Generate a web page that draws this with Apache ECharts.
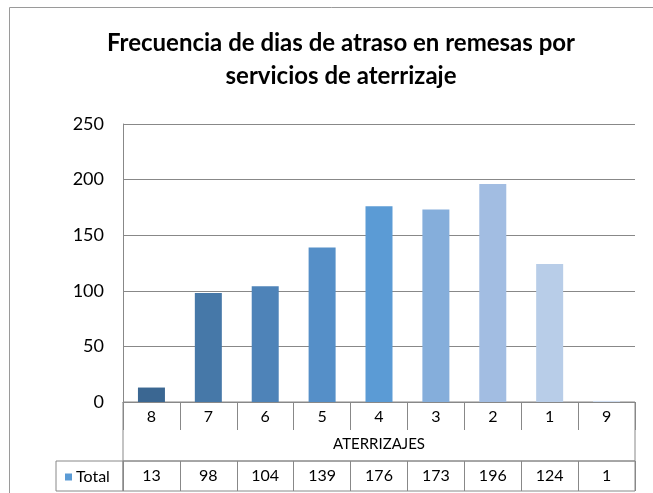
<!DOCTYPE html>
<html>
<head>
<meta charset="utf-8">
<script src="https://cdn.jsdelivr.net/npm/echarts@6/dist/echarts.min.js"></script>
<style>
  html, body { margin: 0; padding: 0; background: #fff; }
  #chart { width: 653px; height: 493px; }
</style>
</head>
<body>
<div id="chart"></div>
<script>
// datos
var categorias = ['8', '7', '6', '5', '4', '3', '2', '1', '9'];
var totales = [13, 98, 104, 139, 176, 173, 196, 124, 1];
var colores = ['#3B6792', '#4678A8', '#4E83B8', '#558FC8', '#5B9BD5', '#85AEDB', '#A2BDE2', '#B8CDE8', '#CFDDF0'];
var ticksY = [0, 50, 100, 150, 200, 250];

var myChart = echarts.init(document.getElementById('chart'));
var fuente = 'Lato';

var barras = [];
for (var i = 0; i < totales.length; i++) {
    barras.push({ value: totales[i], itemStyle: { color: colores[i] } });
}

var option = {
    animation: false,
    textStyle: { fontFamily: fuente },
    graphic: [{
        type: 'rect',
        shape: { x: 9.5, y: 7.5, width: 700, height: 600 },
        style: { fill: 'none', stroke: '#9a9a9a', lineWidth: 1 },
        z: -10
    }],
    title: {
        text: 'Frecuencia de dias de atraso en remesas por\nservicios de aterrizaje',
        left: 336,
        textAlign: 'center',
        top: 22,
        textStyle: { fontFamily: fuente, fontSize: 24, fontWeight: 'bold', color: '#000', lineHeight: 33 }
    },
    legend: {
        data: ['Total'],
        left: 60,
        top: 464,
        icon: 'rect',
        itemWidth: 7,
        itemHeight: 7,
        textStyle: { fontFamily: fuente, fontSize: 16, color: '#000', padding: [0, 0, 0, -1] }
    },
    grid: [
        { left: 123, right: 18, top: 124, bottom: 91 },
        { left: 123, right: 18, top: 402, bottom: 32, show: true, borderColor: '#888', borderWidth: 1 },
        { left: 123, right: 18, top: 461, bottom: 2, show: true, borderColor: '#888', borderWidth: 1 },
        { left: 56, right: 530, top: 461, bottom: 2, show: true, borderColor: '#888', borderWidth: 1 }
    ],
    xAxis: [
        {
            gridIndex: 0, type: 'category', data: categorias,
            axisLine: { lineStyle: { color: '#888', width: 1 } },
            axisTick: { show: true, length: 28, lineStyle: { color: '#888' } },
            axisLabel: { margin: 7, fontSize: 16, color: '#000', fontFamily: fuente, interval: 0 },
            splitLine: { show: false }
        },
        {
            gridIndex: 1, type: 'category', data: categorias,
            axisLine: { show: false }, axisTick: { show: false }, axisLabel: { show: false },
            name: 'ATERRIZAJES', nameLocation: 'middle', nameGap: -24,
            nameTextStyle: { fontFamily: fuente, fontSize: 15, color: '#000' }
        },
        {
            gridIndex: 2, type: 'category', position: 'top',
            data: totales.map(function (v) { return String(v); }),
            axisLine: { show: false }, axisTick: { show: false },
            axisLabel: { inside: true, margin: 7, fontSize: 16, color: '#000', fontFamily: fuente, interval: 0 },
            splitLine: { show: true, interval: 0, lineStyle: { color: '#888' } }
        },
        { gridIndex: 3, type: 'category', data: ['Total'], show: false }
    ],
    yAxis: [
        {
            gridIndex: 0, type: 'value', min: 0, max: 250, interval: 50,
            axisLine: { show: true, lineStyle: { color: '#888' } },
            axisTick: { show: false },
            axisLabel: {
                margin: 19, fontSize: 18, color: '#000', fontFamily: fuente,
                formatter: function (v) { return ticksY.indexOf(v) >= 0 ? String(v) : ''; }
            },
            splitLine: { show: true, lineStyle: { color: '#888', width: 1 } }
        },
        { gridIndex: 1, type: 'value', show: false },
        { gridIndex: 2, type: 'value', show: false },
        { gridIndex: 3, type: 'value', show: false }
    ],
    series: [{
        name: 'Total',
        type: 'bar',
        xAxisIndex: 0,
        yAxisIndex: 0,
        barWidth: 27,
        color: '#5B9BD5',
        data: barras
    }]
};

myChart.setOption(option);
window.addEventListener('resize', function () {
    myChart.resize();
});
</script>
</body>
</html>
